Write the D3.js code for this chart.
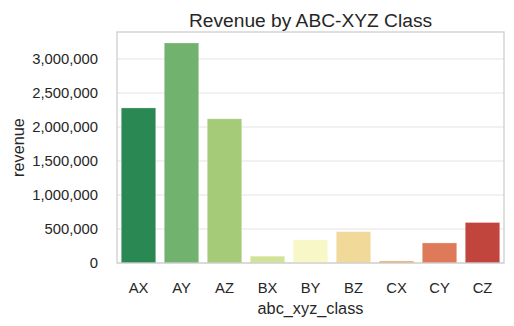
<!DOCTYPE html>
<html>
<head>
<meta charset="utf-8">
<script src="https://cdn.jsdelivr.net/npm/d3@7"></script>
<style>
  body { margin: 0; background: #fff; }
  text { font-family: "Liberation Sans", Arial, sans-serif; fill: #262626; }
</style>
</head>
<body>
<div id="chart"></div>
<script>
// data
var classes = ["AX", "AY", "AZ", "BX", "BY", "BZ", "CX", "CY", "CZ"];
var revenue = [2280000, 3235000, 2120000, 100000, 340000, 460000, 30000, 295000, 595000];
var yTicks = [0, 500000, 1000000, 1500000, 2000000, 2500000, 3000000];
// RdYlGn reversed, 9 classes
var baseColors = ["#1a9850", "#66bd63", "#a6d96a", "#d9ef8b", "#ffffbf", "#fee08b", "#fdae61", "#f46d43", "#d73027"];

var W = 514, H = 326;
var margin = {top: 32, right: 10, bottom: 63, left: 117};
var width = W - margin.left - margin.right,
    height = H - margin.top - margin.bottom;

// seaborn desaturates the palette a bit (saturation .75)
function desat(c) {
  var h = d3.hsl(c);
  h.s = h.s * 0.75;
  return h.formatHex();
}

var svg = d3.select("#chart").append("svg")
    .attr("width", W)
    .attr("height", H);

var g = svg.append("g")
    .attr("transform", "translate(" + margin.left + "," + margin.top + ")");

var x = d3.scaleBand()
    .domain(classes)
    .range([0, width])
    .paddingInner(0.2)
    .paddingOuter(0.1);

var y = d3.scaleLinear()
    .domain([0, d3.max(revenue) * 1.05])
    .range([height, 0]);

// grid lines
g.selectAll(".grid")
  .data(yTicks)
  .enter().append("line")
  .attr("class", "grid")
  .attr("x1", 0)
  .attr("x2", width)
  .attr("y1", function(d) { return y(d); })
  .attr("y2", function(d) { return y(d); })
  .attr("stroke", "#e3e3e3")
  .attr("stroke-width", 1);

// bars
g.selectAll(".bar")
  .data(classes)
  .enter().append("rect")
  .attr("class", "bar")
  .attr("x", function(d) { return x(d); })
  .attr("width", x.bandwidth())
  .attr("y", function(d, i) { return y(revenue[i]); })
  .attr("height", function(d, i) { return height - y(revenue[i]); })
  .attr("fill", function(d, i) { return desat(baseColors[i]); })
  .attr("stroke", "rgba(255,255,255,0.25)")
  .attr("stroke-width", 1);

// frame
g.append("rect")
  .attr("x", 0)
  .attr("y", 0)
  .attr("width", width)
  .attr("height", height)
  .attr("fill", "none")
  .attr("stroke", "#cccccc")
  .attr("stroke-width", 1.25);

// axes, no tick marks (whitegrid)
var yAxis = d3.axisLeft(y)
    .tickValues(yTicks)
    .tickSize(0)
    .tickPadding(19)
    .tickFormat(d3.format(",d"));
var xAxis = d3.axisBottom(x).tickSize(0).tickPadding(19);

g.append("g").call(yAxis)
  .call(function(s) { s.select(".domain").remove(); })
  .selectAll("text")
  .style("font-size", "14.8px")
  .attr("fill", "#262626");

g.append("g")
  .attr("transform", "translate(0," + height + ")")
  .call(xAxis)
  .call(function(s) { s.select(".domain").remove(); })
  .selectAll("text")
  .style("font-size", "14.8px")
  .attr("fill", "#262626");

// labels
svg.append("text")
  .attr("x", margin.left + width / 2)
  .attr("y", 27)
  .attr("text-anchor", "middle")
  .style("font-size", "19.2px")
  .text("Revenue by ABC-XYZ Class");

svg.append("text")
  .attr("x", margin.left + width / 2)
  .attr("y", 314)
  .attr("text-anchor", "middle")
  .style("font-size", "16.3px")
  .text("abc_xyz_class");

svg.append("text")
  .attr("transform", "rotate(-90)")
  .attr("x", -(margin.top + height / 2))
  .attr("y", 23.5)
  .attr("text-anchor", "middle")
  .style("font-size", "16.3px")
  .text("revenue");
</script>
</body>
</html>
